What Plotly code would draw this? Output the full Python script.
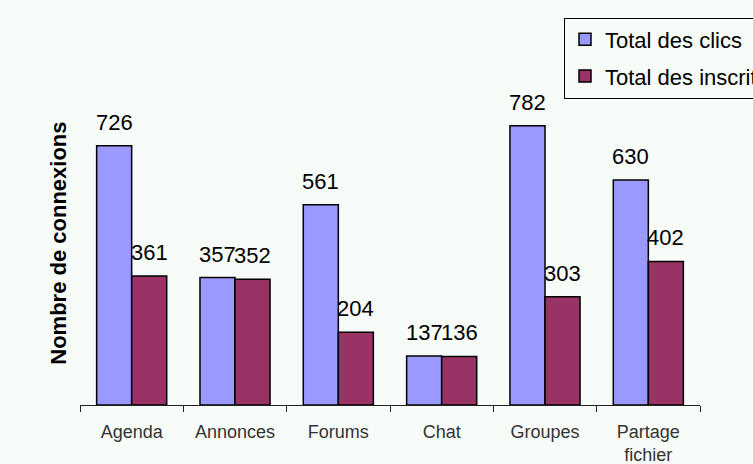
import plotly.graph_objects as go

categories = ["Agenda", "Annonces", "Forums", "Chat", "Groupes", "Partage<br>fichier"]
clics = [726, 357, 561, 137, 782, 630]
inscrits = [361, 352, 204, 136, 303, 402]
series_names = ["Total des clics", "Total des inscrits"]
colors = ["#9999FF", "#993366"]

BG = "#F8FCF8"
FONT = "Liberation Sans, Arial, sans-serif"

H, W = 464, 753
L, R, T, B = 80, 53, 47.5, 59
pw, ph = W - L - R, H - T - B

fig = go.Figure()
for name, vals, col in zip(series_names, [clics, inscrits], colors):
    fig.add_trace(go.Bar(
        name=name, x=categories, y=vals, legendgroup=name,
        marker=dict(color=col, line=dict(color="black", width=1.5)),
    ))

annotations = []
for vals, shift in [(clics, -17.5), (inscrits, 17.5)]:
    for c, v in zip(categories, vals):
        annotations.append(dict(
            x=c, y=v, xref="x", yref="y", text=str(v), showarrow=False,
            xshift=shift, yshift=9, yanchor="bottom",
            font=dict(family=FONT, size=22, color="black"),
        ))
annotations.append(dict(
    x=(44 - L) / pw, y=(H - B - 243) / ph, xref="paper", yref="paper",
    text="<b>Nombre de connexions</b>",
    textangle=-90, showarrow=False, font=dict(family=FONT, size=22, color="black"),
))

fig.update_layout(
    width=W, height=H,
    margin=dict(l=L, r=R, t=T, b=B, autoexpand=False),
    paper_bgcolor=BG, plot_bgcolor=BG,
    barmode="group", bargap=0.322, bargroupgap=0,
    font=dict(family=FONT),
    showlegend=True,
    legend=dict(
        x=(564 - L) / pw, y=1 + (T - 17) / ph, xanchor="left", yanchor="top",
        bgcolor=BG, bordercolor="black", borderwidth=1,
        font=dict(family=FONT, size=22, color="black"),
        tracegroupgap=5, itemwidth=30,
    ),
    annotations=annotations,
    xaxis=dict(
        showline=True, linecolor="#222", linewidth=1,
        ticks="outside", tickson="boundaries", ticklen=6, tickcolor="#222",
        tickfont=dict(family=FONT, size=18, color="#333"),
        ticklabelstandoff=10,
    ),
    yaxis=dict(
        range=[0, 1000], showgrid=False, showticklabels=False,
        zeroline=False, showline=False, ticks="",
    ),
)

fig.write_html("out.html", config={"displayModeBar": False},
               post_script="document.body.style.margin='0';")
